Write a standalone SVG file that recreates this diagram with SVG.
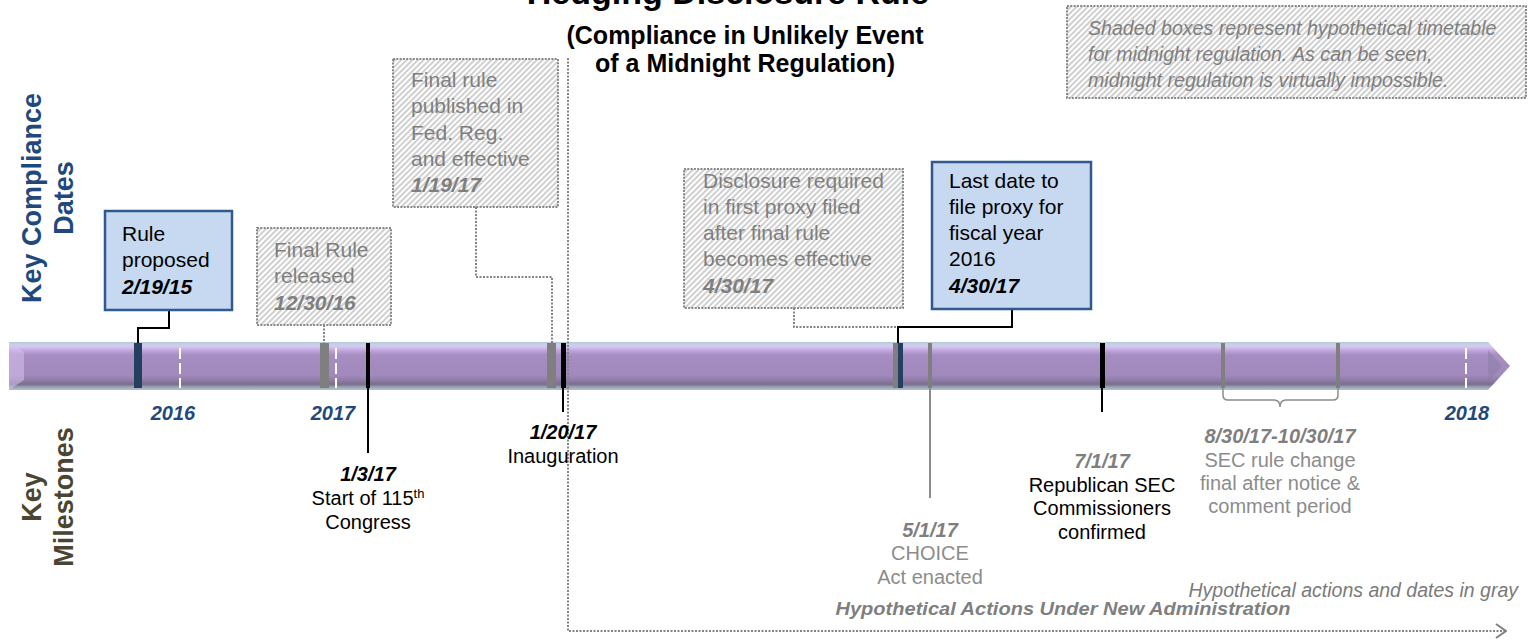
<svg xmlns="http://www.w3.org/2000/svg" width="1530" height="641" viewBox="0 0 1530 641">
  <style>
    text { font-family: "Liberation Sans", Arial, sans-serif; }
    .title { font-size: 25px; font-weight: bold; fill: #000; text-anchor: middle; }
    .side-blue { font-size: 27px; font-weight: bold; fill: #1F497D; text-anchor: middle; }
    .side-olive { font-size: 27px; font-weight: bold; fill: #4A4530; text-anchor: middle; }
    .box-solid { fill: #C6D9F1; stroke: #2F5A8F; stroke-width: 2.5; }
    .box-hyp { fill: url(#hatch); stroke: #888888; stroke-width: 2; stroke-dasharray: 2 1.3; }
    .t-box { font-size: 21px; fill: #000; }
    .t-hyp { font-size: 21px; fill: #7F7F7F; }
    .date { font-weight: bold; font-style: italic; }
    .year { font-size: 20px; font-weight: bold; font-style: italic; fill: #1F497D; text-anchor: middle; }
    .ms { font-size: 20px; text-anchor: middle; fill: #000; }
    .ms-hyp { font-size: 20px; text-anchor: middle; fill: #8C8C8C; }
    .ms-hyp-date { font-size: 20px; text-anchor: middle; fill: #7F7F7F; font-weight: bold; font-style: italic; }
    .solid { fill: none; stroke: #000; stroke-width: 2; }
    .dotted { fill: none; stroke: #848484; stroke-width: 2; stroke-dasharray: 2 1.5; }
    .note { font-size: 19.6px; font-style: italic; fill: #7F7F7F; }
    .tick-white { stroke: #FFFFFF; stroke-width: 2; stroke-dasharray: 11 4; }
  </style>
  <defs>
    <pattern id="hatch" width="4" height="4" patternUnits="userSpaceOnUse" patternTransform="rotate(45)">
      <rect width="4" height="4" fill="#FFFFFF"/>
      <line x1="2" y1="0" x2="2" y2="4" stroke="#B0B0B0" stroke-width="1.2"/>
    </pattern>
    <linearGradient id="barFill" x1="0" y1="0" x2="0" y2="1">
      <stop offset="0" stop-color="#B7C6D8"/>
      <stop offset="0.06" stop-color="#C5D3E8"/>
      <stop offset="0.1" stop-color="#D9C4F2"/>
      <stop offset="0.18" stop-color="#BFA5DB"/>
      <stop offset="0.27" stop-color="#A68DC2"/>
      <stop offset="0.7" stop-color="#A189BC"/>
      <stop offset="0.8" stop-color="#8E7BA6"/>
      <stop offset="0.88" stop-color="#7A6E8C"/>
      <stop offset="0.94" stop-color="#98A4B4"/>
      <stop offset="1" stop-color="#B3BFCC"/>
    </linearGradient>
    <marker id="chevron" viewBox="0 0 12 16" refX="11" refY="8" markerWidth="12" markerHeight="16" markerUnits="userSpaceOnUse" orient="auto">
      <path d="M1,1 L11,8 L1,15" fill="none" stroke="#7F7F7F" stroke-width="2"/>
    </marker>
  </defs>

  <!-- heading -->
  <g id="heading">
    <text x="728" y="4" class="title" style="font-size:34px">Hedging Disclosure Rule</text>
    <text x="745" y="44" class="title">(Compliance in Unlikely Event</text>
    <text x="745" y="72" class="title">of a Midnight Regulation)</text>
  </g>

  <!-- legend note -->
  <g id="note">
    <rect x="1067" y="6" width="459" height="92" class="box-hyp"/>
    <text class="note" x="1088" y="35">Shaded boxes represent hypothetical timetable</text>
    <text class="note" x="1088" y="61">for midnight regulation. As can be seen,</text>
    <text class="note" x="1088" y="87">midnight regulation is virtually impossible.</text>
  </g>

  <!-- row labels -->
  <g id="label-compliance">
    <text class="side-blue" transform="translate(41,198) rotate(-90)">Key Compliance</text>
    <text class="side-blue" transform="translate(73,198) rotate(-90)">Dates</text>
  </g>
  <g id="label-milestones">
    <text class="side-olive" transform="translate(41,497) rotate(-90)">Key</text>
    <text class="side-olive" transform="translate(73,497) rotate(-90)">Milestones</text>
  </g>

  <!-- timeline bar -->
  <g id="timeline">
    <path d="M9,342 H1488 L1510,366 L1488,390 H9 Z" fill="url(#barFill)"/>
    <polygon points="9,342 24,352 24,380 9,390" fill="#D6C2EE" opacity="0.55"/>
    <polygon points="1488,350 1502,366 1488,382" fill="#8C7CA4" opacity="0.5"/>
    <!-- event ticks -->
    <rect x="134" y="343" width="8" height="45" fill="#243F60"/>
    <rect x="320" y="343" width="9" height="45" fill="#7F7F7F"/>
    <rect x="366" y="343" width="4" height="45" fill="#000"/>
    <rect x="547" y="343" width="9" height="45" fill="#7F7F7F"/>
    <rect x="561" y="343" width="5" height="45" fill="#000"/>
    <rect x="893" y="343" width="5" height="45" fill="#7F7F7F"/>
    <rect x="898" y="343" width="5" height="45" fill="#243F60"/>
    <rect x="928" y="343" width="4" height="45" fill="#7F7F7F"/>
    <rect x="1100" y="343" width="5" height="45" fill="#000"/>
    <rect x="1221" y="343" width="4" height="45" fill="#7F7F7F"/>
    <rect x="1336" y="343" width="4" height="45" fill="#7F7F7F"/>
    <!-- year boundaries -->
    <line x1="180" y1="348" x2="180" y2="388" class="tick-white"/>
    <line x1="336" y1="348" x2="336" y2="388" class="tick-white"/>
    <line x1="1466" y1="348" x2="1466" y2="388" class="tick-white"/>
  </g>

  <g id="years">
    <text class="year" x="173" y="420">2016</text>
    <text class="year" x="333" y="420">2017</text>
    <text class="year" x="1467" y="420">2018</text>
  </g>

  <!-- connectors -->
  <g id="connectors">
    <path class="solid" d="M169,310 V328 H138 V343"/>
    <path class="dotted" d="M324,325 V343"/>
    <path class="dotted" d="M476,207 V277 H552 V343"/>
    <path class="dotted" d="M794,308 V327 H898"/>
    <path class="solid" d="M1012,309 V327 H898 V343"/>
    <path class="solid" d="M368,388 V453"/>
    <path class="solid" d="M563,388 V412"/>
    <path d="M930,388 V498" fill="none" stroke="#8C8C8C" stroke-width="2"/>
    <path class="solid" d="M1102,388 V412"/>
    <path d="M1223,388 V395 Q1223,400 1228,400 H1274 Q1280,400 1280,407 Q1280,400 1286,400 H1333 Q1338,400 1338,395 V388" fill="none" stroke="#8C8C8C" stroke-width="1.5"/>
    <path class="dotted" d="M568,58 V631 H1506" stroke="#7A7A7A" marker-end="url(#chevron)"/>
  </g>

  <!-- compliance date boxes -->
  <g id="rule-proposed">
    <rect x="105" y="211" width="127" height="99" class="box-solid"/>
    <text class="t-box" x="122" y="241">Rule</text>
    <text class="t-box" x="122" y="267">proposed</text>
    <text class="t-box date" x="122" y="294">2/19/15</text>
  </g>
  <g id="final-rule-released">
    <rect x="257" y="228" width="134" height="97" class="box-hyp"/>
    <text class="t-hyp" x="274" y="257">Final Rule</text>
    <text class="t-hyp" x="274" y="283">released</text>
    <text class="t-hyp date" x="274" y="310">12/30/16</text>
  </g>
  <g id="final-rule-published">
    <rect x="393" y="59" width="165" height="148" class="box-hyp"/>
    <text class="t-hyp" x="411" y="87">Final rule</text>
    <text class="t-hyp" x="411" y="113">published in</text>
    <text class="t-hyp" x="411" y="140">Fed. Reg.</text>
    <text class="t-hyp" x="411" y="166">and effective</text>
    <text class="t-hyp date" x="411" y="192">1/19/17</text>
  </g>
  <g id="disclosure-required">
    <rect x="684" y="169" width="219" height="139" class="box-hyp"/>
    <text class="t-hyp" x="703" y="188">Disclosure required</text>
    <text class="t-hyp" x="703" y="214">in first proxy filed</text>
    <text class="t-hyp" x="703" y="240">after final rule</text>
    <text class="t-hyp" x="703" y="266">becomes effective</text>
    <text class="t-hyp date" x="703" y="293">4/30/17</text>
  </g>
  <g id="last-date">
    <rect x="932" y="162" width="159" height="147" class="box-solid"/>
    <text class="t-box" x="949" y="188">Last date to</text>
    <text class="t-box" x="949" y="214">file proxy for</text>
    <text class="t-box" x="949" y="240">fiscal year</text>
    <text class="t-box" x="949" y="266">2016</text>
    <text class="t-box date" x="949" y="293">4/30/17</text>
  </g>

  <!-- milestones -->
  <g id="ms-congress">
    <text class="ms date" x="368" y="481">1/3/17</text>
    <text class="ms" x="368" y="505">Start of 115<tspan baseline-shift="super" font-size="13">th</tspan></text>
    <text class="ms" x="368" y="529">Congress</text>
  </g>
  <g id="ms-inauguration">
    <text class="ms date" x="563" y="439">1/20/17</text>
    <text class="ms" x="563" y="463">Inauguration</text>
  </g>
  <g id="ms-choice">
    <text class="ms-hyp-date" x="930" y="537">5/1/17</text>
    <text class="ms-hyp" x="930" y="560">CHOICE</text>
    <text class="ms-hyp" x="930" y="584">Act enacted</text>
  </g>
  <g id="ms-commissioners">
    <text class="ms-hyp-date" x="1102" y="468">7/1/17</text>
    <text class="ms" x="1102" y="492">Republican SEC</text>
    <text class="ms" x="1102" y="515">Commissioners</text>
    <text class="ms" x="1102" y="539">confirmed</text>
  </g>
  <g id="ms-sec-rule">
    <text class="ms-hyp-date" x="1280" y="443">8/30/17-10/30/17</text>
    <text class="ms-hyp" x="1280" y="467">SEC rule change</text>
    <text class="ms-hyp" x="1280" y="490">final after notice &amp;</text>
    <text class="ms-hyp" x="1280" y="513">comment period</text>
  </g>

  <g id="footnotes">
    <text x="1518" y="597" font-size="19.5" font-style="italic" fill="#7A7A7A" text-anchor="end">Hypothetical actions and dates in gray</text>
    <text x="1063" y="615" font-size="18.5" font-weight="bold" font-style="italic" fill="#7F7F7F" text-anchor="middle" textLength="455" lengthAdjust="spacingAndGlyphs">Hypothetical Actions Under New Administration</text>
  </g>
</svg>
